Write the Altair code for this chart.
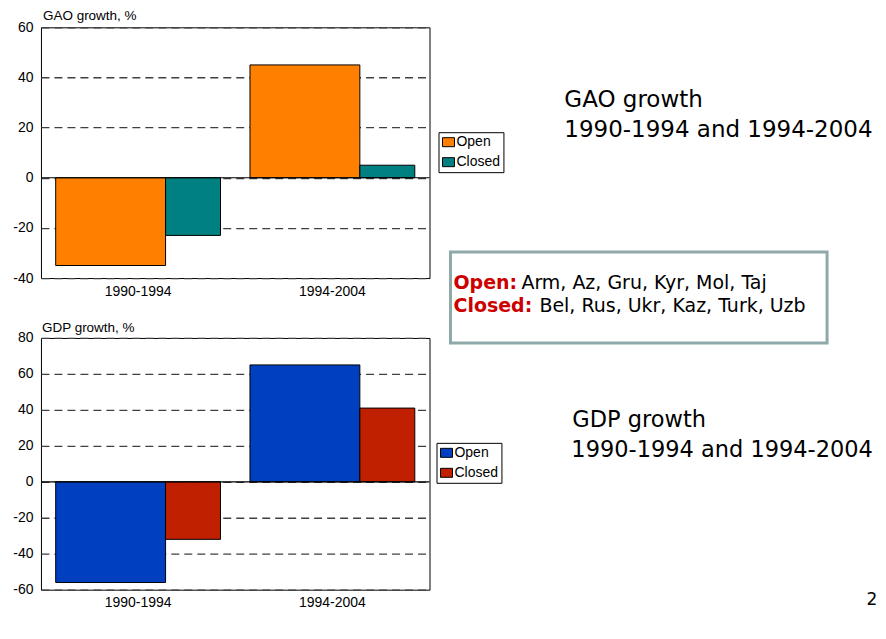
import altair as alt
import pandas as pd

FONT = "Liberation Sans"
SLIDE_FONT = "DejaVu Sans"

periods = ["1990-1994", "1994-2004"]
series = ["Open", "Closed"]

gao_open = [-35, 45]
gao_closed = [-23, 5]
gdp_open = [-56, 65]
gdp_closed = [-32, 41]

gao_colors = ["#FF8000", "#008080"]
gdp_colors = ["#0040C0", "#C02000"]

gao_ticks = [-40, -20, 0, 20, 40, 60]
gdp_ticks = [-60, -40, -20, 0, 20, 40, 60, 80]

gao_title = ["GAO growth, %"]
gdp_title = ["GDP growth, %"]
gao_note = ["GAO growth", "1990-1994 and 1994-2004"]
gdp_note = ["GDP growth", "1990-1994 and 1994-2004"]
box_keys = ["Open:", "Closed:"]
box_vals = ["Arm, Az, Gru, Kyr, Mol, Taj", "Bel, Rus, Ukr, Kaz, Turk, Uzb"]
page_no = ["2"]

W = 389
BAND = W / 2


def text_layer(s, x, y, size, color="black", weight="normal", align="left",
               font=FONT):
    return alt.Chart(pd.DataFrame({"t": [s]})).mark_text(
        align=align, baseline="alphabetic", fontSize=size, font=font,
        color=color, fontWeight=weight
    ).encode(x=alt.value(x), y=alt.value(y), text="t:N")


def panel(vopen, vclosed, colors, ydomain, ticks, height, title, tx, ty,
          legend_xy, extras):
    df = pd.DataFrame({
        "period": periods * 2,
        "series": ["Open"] * 2 + ["Closed"] * 2,
        "value": vopen + vclosed,
    })
    x = alt.X("period:N", sort=periods, title=None,
              scale=alt.Scale(paddingInner=0, paddingOuter=0),
              axis=alt.Axis(labelAngle=0, domain=False, ticks=False,
                            labelPadding=6, labelFontSize=14, labelFont=FONT,
                            labelColor="black", grid=False))
    y = alt.Y("value:Q", title=None,
              scale=alt.Scale(domain=ydomain, nice=False, zero=False),
              axis=alt.Axis(values=ticks, grid=True, gridDash=[8, 5],
                            gridColor="#404040", gridWidth=1.3, domain=False,
                            ticks=False, labelPadding=8, labelFontSize=14,
                            labelFont=FONT, labelColor="black",
                            labelExpr="'' + datum.value"))
    color = alt.Color("series:N",
                      scale=alt.Scale(domain=series, range=colors),
                      legend=alt.Legend(
                          orient="none", legendX=legend_xy[0],
                          legendY=legend_xy[1], title=None,
                          symbolType="M-1,-0.75H1V0.75H-1Z", symbolSize=144,
                          symbolStrokeColor="black", symbolStrokeWidth=1,
                          labelFontSize=14, labelFont=FONT, labelColor="black",
                          labelOffset=1, rowPadding=6, padding=3,
                          strokeColor="black", fillColor="white",
                          cornerRadius=0))
    base = alt.Chart(df)
    open_bars = base.transform_filter(alt.datum.series == "Open").mark_bar(
        width={"band": 110 / BAND}, xOffset=-27.5, stroke="black",
        strokeWidth=1).encode(x=x, y=y, color=color)
    closed_bars = base.transform_filter(alt.datum.series == "Closed").mark_bar(
        width={"band": 55 / BAND}, xOffset=55, stroke="black",
        strokeWidth=1).encode(x=x, y=y, color=color)
    zero = alt.Chart(pd.DataFrame({"value": [0]})).mark_rule(
        color="black", strokeWidth=1.2).encode(y=y)
    layers = [open_bars, closed_bars, zero, text_layer(title, tx, ty, 13.5)]
    layers += extras
    return alt.layer(*layers).properties(width=W, height=height)


top_extras = [
    text_layer(gao_note[0], 524, 80, 23, font=SLIDE_FONT),
    text_layer(gao_note[1], 524, 110, 23, font=SLIDE_FONT),
    alt.Chart(pd.DataFrame({"a": [0]})).mark_rect(
        filled=False, stroke="#8FA8AA", strokeWidth=3
    ).encode(x=alt.value(410), x2=alt.value(787), y=alt.value(225),
             y2=alt.value(316)),
    text_layer(box_keys[0], 413, 262, 19, color="#CC0000", weight="bold",
               font=SLIDE_FONT),
    text_layer(box_vals[0], 481, 262, 19, font=SLIDE_FONT),
    text_layer(box_keys[1], 413, 285, 19, color="#CC0000", weight="bold",
               font=SLIDE_FONT),
    text_layer(box_vals[1], 499, 285, 19, font=SLIDE_FONT),
]

bottom_extras = [
    text_layer(gdp_note[0], 532, 89, 22.5, font=SLIDE_FONT),
    text_layer(gdp_note[1], 531, 119, 22.5, font=SLIDE_FONT),
    text_layer(page_no[0], 832, 267, 17, align="center", font=SLIDE_FONT),
]

top = panel(gao_open, gao_closed, gao_colors, [-40, 60], gao_ticks, 251,
            gao_title[0], 2, -7, (398, 105), top_extras)
bottom = panel(gdp_open, gdp_closed, gdp_colors, [-60, 80], gdp_ticks, 252,
               gdp_title[0], 1, -6, (396, 105), bottom_extras)

chart = alt.vconcat(top, bottom, spacing=60, bounds="flush").resolve_scale(
    color="independent", y="independent", x="independent"
).properties(
    padding={"left": 4, "top": 0, "right": 0, "bottom": 0},
    background="white"
).configure_view(stroke="black", strokeWidth=1)

chart.save("out.html", embed_options={"renderer": "svg", "actions": False})
